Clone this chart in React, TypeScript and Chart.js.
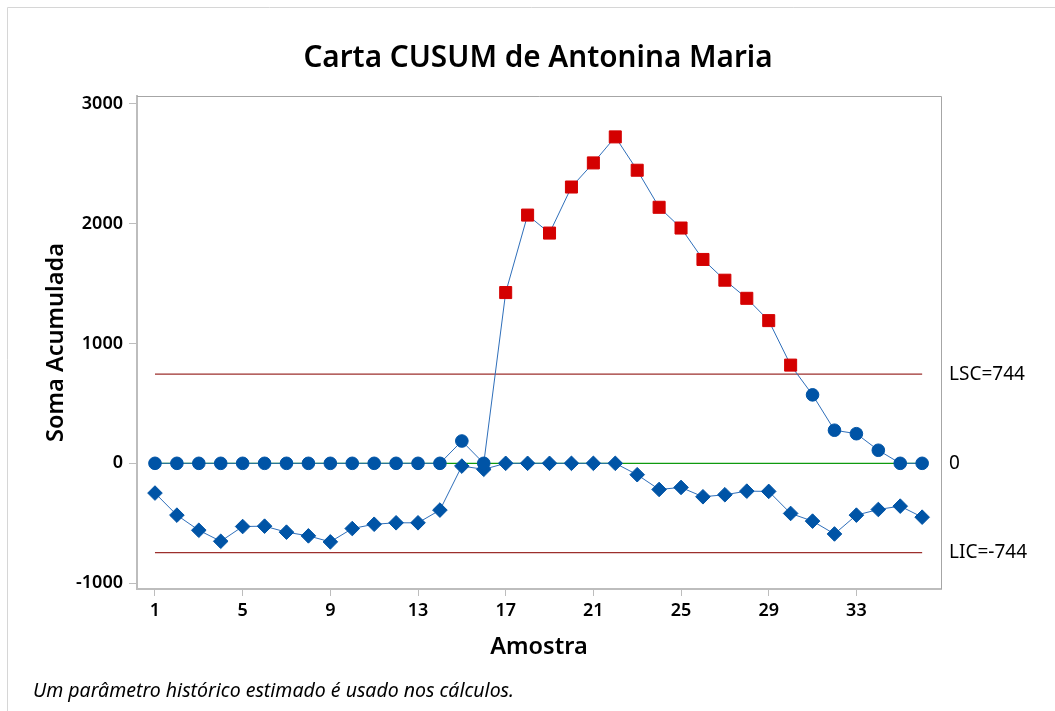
import React, { useEffect, useRef } from 'react';
import { Chart, registerables } from 'chart.js';

Chart.register(...registerables);

const samples = [1, 2, 3, 4, 5, 6, 7, 8, 9, 10, 11, 12, 13, 14, 15, 16, 17, 18, 19, 20, 21, 22, 23, 24, 25, 26, 27, 28, 29, 30, 31, 32, 33, 34, 35, 36];
const upperCusum = [0, 0, 0, 0, 0, 0, 0, 0, 0, 0, 0, 0, 0, 0, 186, 0, 1424, 2070, 1920, 2304, 2505, 2722, 2444, 2135, 1962, 1700, 1527, 1376, 1190, 819, 571, 276, 247, 109, 0, 0];
const lowerCusum = [-248, -432, -558, -650, -527, -524, -574, -605, -655, -544, -508, -496, -496, -390, -23, -50, 0, 0, 0, 0, 0, 0, -95, -218, -201, -279, -262, -232, -234, -418, -482, -589, -432, -385, -357, -449];
const ucl = 744;
const lcl = -744;
const centerValue = 0;
const yTicks = [-1000, 0, 1000, 2000, 3000];
const xTicks = [1, 5, 9, 13, 17, 21, 25, 29, 33];
const titleText = 'Carta CUSUM de Antonina Maria';
const yTitleText = 'Soma Acumulada';
const xTitleText = 'Amostra';
const footnoteText = 'Um parâmetro histórico estimado é usado nos cálculos.';
const uclLabel = 'LSC=744';
const centerLabel = '0';
const lclLabel = 'LIC=-744';

const FONT = '"Noto Sans", "Open Sans", sans-serif';
const BLUE = '#0054a6';
const LINE_BLUE = '#2f6fba';
const RED = '#d40000';
const LIMIT = '#9c2f2c';
const GREEN = '#0f9a0f';
const AXIS = '#bdbdbd';

const decor = {
  id: 'decor',
  beforeDraw(chart: any) {
    const { ctx, width, height } = chart;
    ctx.save();
    ctx.fillStyle = '#fff';
    ctx.fillRect(0, 0, width, height);
    ctx.strokeStyle = '#d6d6d6';
    ctx.lineWidth = 1;
    ctx.beginPath();
    ctx.moveTo(7.5, height);
    ctx.lineTo(7.5, 7.5);
    ctx.lineTo(width, 7.5);
    ctx.stroke();
    ctx.restore();
  },
  afterDraw(chart: any) {
    const { ctx, chartArea: a, scales } = chart;
    const y = scales.y;
    ctx.save();
    ctx.strokeStyle = '#a6a6a6';
    ctx.lineWidth = 1;
    ctx.beginPath();
    ctx.moveTo(a.left, a.top + 0.5);
    ctx.lineTo(a.right + 0.5, a.top + 0.5);
    ctx.lineTo(a.right + 0.5, a.bottom);
    ctx.stroke();

    ctx.fillStyle = '#000';
    ctx.textAlign = 'center';
    ctx.textBaseline = 'alphabetic';
    ctx.font = `600 29.7px ${FONT}`;
    ctx.fillText(titleText, 538, 67);

    ctx.font = `600 23.5px ${FONT}`;
    ctx.fillText(xTitleText, (a.left + a.right) / 2, 654);

    ctx.save();
    ctx.translate(63, (a.top + a.bottom) / 2);
    ctx.rotate(-Math.PI / 2);
    ctx.fillText(yTitleText, 0, 0);
    ctx.restore();

    ctx.font = `19px ${FONT}`;
    ctx.textAlign = 'left';
    ctx.textBaseline = 'middle';
    ctx.fillText(uclLabel, a.right + 8, y.getPixelForValue(ucl));
    ctx.fillText(centerLabel, a.right + 8, y.getPixelForValue(centerValue));
    ctx.fillText(lclLabel, a.right + 8, y.getPixelForValue(lcl));

    ctx.font = `italic 19.5px ${FONT}`;
    ctx.textBaseline = 'alphabetic';
    ctx.fillText(footnoteText, 33, 697);
    ctx.restore();
  },
};

export default function App() {
  const ref = useRef<HTMLCanvasElement>(null);

  useEffect(() => {
    const canvas = ref.current;
    if (!canvas) return;
    const upperStyles = upperCusum.map((v) => (v > ucl ? 'rect' : 'circle'));
    const upperColors = upperCusum.map((v) => (v > ucl ? RED : BLUE));
    const upperRadius = upperCusum.map((v) => (v > ucl ? 8.5 : 6.3));
    const first = samples[0];
    const last = samples[samples.length - 1];

    const chart = new Chart(canvas, {
      type: 'line',
      data: {
        datasets: [
          {
            label: 'Upper CUSUM',
            data: samples.map((s, i) => ({ x: s, y: upperCusum[i] })),
            borderColor: LINE_BLUE,
            borderWidth: 1,
            pointStyle: upperStyles as any,
            pointRadius: upperRadius,
            pointBackgroundColor: upperColors,
            pointBorderColor: upperColors,
            pointBorderWidth: 1,
            order: 0,
          },
          {
            label: 'Lower CUSUM',
            data: samples.map((s, i) => ({ x: s, y: lowerCusum[i] })),
            borderColor: LINE_BLUE,
            borderWidth: 1,
            pointStyle: 'rectRot',
            pointRadius: 7.3,
            pointBackgroundColor: BLUE,
            pointBorderColor: BLUE,
            pointBorderWidth: 1,
            order: 1,
          },
          {
            label: 'LSC',
            data: [{ x: first, y: ucl }, { x: last, y: ucl }],
            borderColor: LIMIT,
            borderWidth: 1.3,
            pointRadius: 0,
            order: 2,
          },
          {
            label: 'Centro',
            data: [{ x: first, y: centerValue }, { x: last, y: centerValue }],
            borderColor: GREEN,
            borderWidth: 1.3,
            pointRadius: 0,
            order: 3,
          },
          {
            label: 'LIC',
            data: [{ x: first, y: lcl }, { x: last, y: lcl }],
            borderColor: LIMIT,
            borderWidth: 1.3,
            pointRadius: 0,
            order: 4,
          },
        ],
      },
      options: {
        responsive: false,
        animation: false,
        devicePixelRatio: 1,
        layout: { padding: { top: 96, right: 114, bottom: 0, left: 0 } },
        plugins: {
          legend: { display: false },
          tooltip: { enabled: false },
          title: { display: false },
        },
        elements: { line: { tension: 0 } },
        scales: {
          x: {
            type: 'linear',
            min: 0.18,
            max: 36.86,
            afterBuildTicks: (s: any) => {
              s.ticks = xTicks.map((v) => ({ value: v }));
            },
            afterFit: (s: any) => {
              s.height = 122;
            },
            ticks: {
              autoSkip: false,
              maxRotation: 0,
              color: '#000',
              padding: 4,
              font: { family: FONT, size: 18, weight: '600' },
              callback: (v: any) => String(v),
            },
            grid: { drawOnChartArea: false, drawTicks: true, tickLength: 7, color: AXIS, lineWidth: 1 },
            border: { display: true, color: AXIS, width: 2 },
          },
          y: {
            type: 'linear',
            min: -1048,
            max: 3063,
            afterBuildTicks: (s: any) => {
              s.ticks = yTicks.map((v) => ({ value: v }));
            },
            afterFit: (s: any) => {
              s.width = 137;
            },
            ticks: {
              color: '#000',
              padding: 6,
              font: { family: FONT, size: 18, weight: '600' },
              callback: (v: any) => String(v),
            },
            grid: { drawOnChartArea: false, drawTicks: true, tickLength: 8, color: AXIS, lineWidth: 1 },
            border: { display: true, color: AXIS, width: 2 },
          },
        },
      },
      plugins: [decor],
    });
    return () => chart.destroy();
  }, []);

  return (
    <canvas
      ref={ref}
      width={1055}
      height={711}
      style={{ position: 'absolute', left: 0, top: 0, width: 1055, height: 711 }}
    />
  );
}
